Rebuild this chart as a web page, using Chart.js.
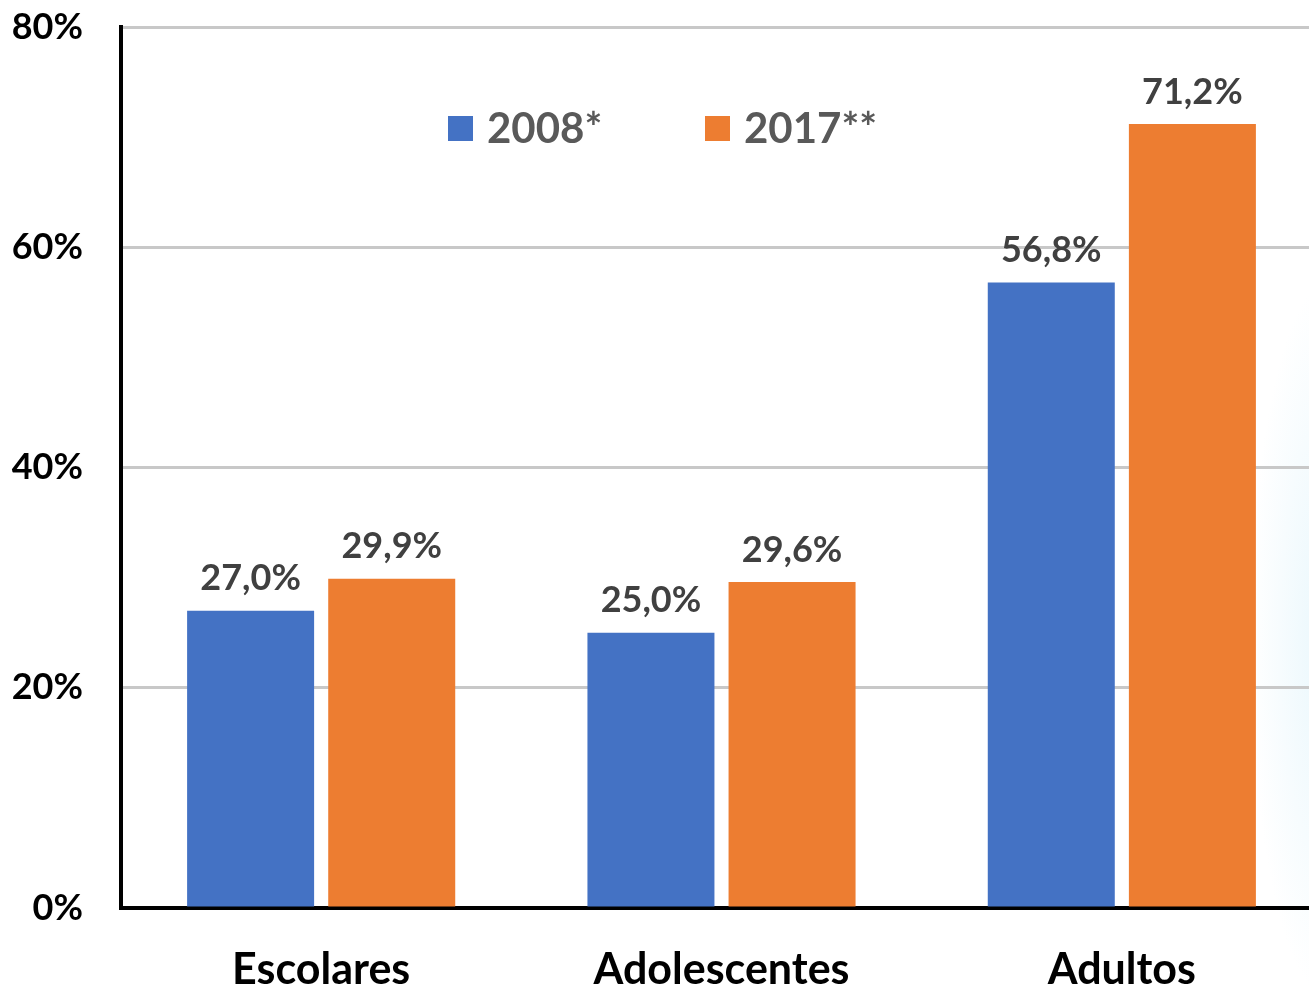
<!DOCTYPE html>
<html>
<head>
<meta charset="utf-8">
<script src="https://cdn.jsdelivr.net/npm/chart.js@4/dist/chart.umd.min.js"></script>
<style>
  html, body { margin: 0; padding: 0; overflow: hidden; background: #fff; }
  #wrap {
    width: 1322px; height: 987px; position: relative;
    background:
      radial-gradient(ellipse 80px 360px at 1330px 640px, rgba(205,237,249,0.45), rgba(255,255,255,0) 100%),
      #fff;
  }
</style>
</head>
<body>
<div id="wrap"><canvas id="chart"></canvas></div>
<script>
// === Data === //
const categories = ['Escolares', 'Adolescentes', 'Adultos']
const seriesLabels = ['2008*', '2017**']
const values2008 = [27.0, 25.0, 56.8]
const values2017 = [29.9, 29.6, 71.2]
const yTicks = [0, 20, 40, 60, 80]

const blue = '#4472C4'
const orange = '#ED7D31'
const fontFamily = 'Lato, "Open Sans", sans-serif'

function pct(v) { return v.toFixed(1).replace('.', ',') + '%' }

// labels above each bar
const barLabels = {
  id: 'barLabels',
  afterDatasetsDraw(chart) {
    const ctx = chart.ctx
    ctx.save()
    ctx.font = 'bold 36px ' + fontFamily
    ctx.fillStyle = '#404040'
    ctx.textAlign = 'center'
    ctx.textBaseline = 'bottom'
    chart.data.datasets.forEach((ds, i) => {
      chart.getDatasetMeta(i).data.forEach((bar, j) => {
        ctx.fillText(pct(ds.data[j]), bar.x, bar.y - 14)
      })
    })
    ctx.restore()
  }
}

// legend drawn inside the plot
const insideLegend = {
  id: 'insideLegend',
  afterDraw(chart) {
    const ctx = chart.ctx
    const startX = [448, 705]
    ctx.save()
    ctx.font = 'bold 42px ' + fontFamily
    ctx.textBaseline = 'middle'
    chart.data.datasets.forEach((ds, i) => {
      ctx.fillStyle = ds.backgroundColor
      ctx.fillRect(startX[i], 116, 25, 25)
      ctx.fillStyle = '#595959'
      ctx.fillText(ds.label, startX[i] + 39, 129)
    })
    ctx.restore()
  }
}

const data = {
  labels: categories,
  datasets: [
    { label: seriesLabels[0], data: values2008, backgroundColor: blue,
      categoryPercentage: 0.705, barPercentage: 0.9 },
    { label: seriesLabels[1], data: values2017, backgroundColor: orange,
      categoryPercentage: 0.705, barPercentage: 0.9 }
  ]
}

const config = {
  type: 'bar',
  data,
  options: {
    responsive: false,
    animation: false,
    layout: { padding: { top: 27, right: 0, left: 0, bottom: 0 } },
    plugins: { legend: { display: false }, tooltip: { enabled: false } },
    scales: {
      x: {
        grid: { display: false },
        border: { color: '#000', width: 4 },
        ticks: { color: '#000', font: { family: fontFamily, size: 43, weight: 'bold' }, padding: 28 },
        afterFit(scale) { scale.height = 79 }
      },
      y: {
        min: 0, max: 80,
        afterBuildTicks(scale) { scale.ticks = yTicks.map(v => ({ value: v })) },
        grid: { color: '#c8c8c8', lineWidth: 3, drawTicks: false },
        border: { color: '#000', width: 4 },
        ticks: {
          color: '#000', padding: 38,
          font: { family: fontFamily, size: 36, weight: 'bold' },
          callback: v => v + '%'
        },
        afterFit(scale) {
          scale.width = 121
          scale.paddingTop = 0
          scale.paddingBottom = 0
        }
      }
    }
  },
  plugins: [barLabels, insideLegend]
}

const canvas = document.getElementById('chart')
canvas.width = 1322
canvas.height = 987
new Chart(canvas, config)
</script>
</body>
</html>
